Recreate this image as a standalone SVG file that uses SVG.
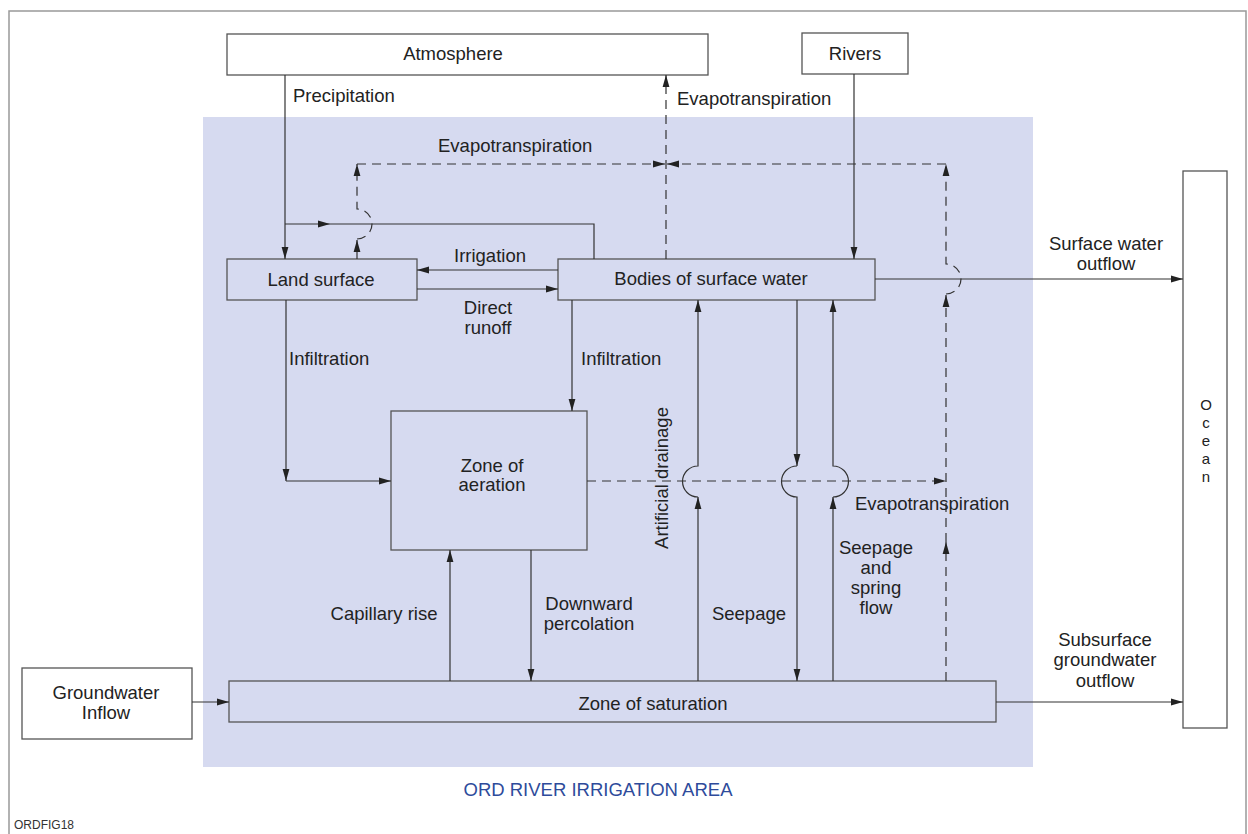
<svg xmlns="http://www.w3.org/2000/svg" width="1248" height="834" viewBox="0 0 1248 834">
<defs>
<style>
.bw{fill:#ffffff;stroke:#555;stroke-width:1.3}
.bb{fill:#d6daf0;stroke:#555;stroke-width:1.3}
.t{font-family:"Liberation Sans",Arial,Helvetica,sans-serif;font-size:18.5px;fill:#222}
.m{text-anchor:middle}
.o{font-size:15px}
.c{fill:none;stroke:#333;stroke-width:1.2}
.d{stroke-dasharray:9 6}
</style>
<marker id="ah" markerWidth="12" markerHeight="8" refX="12" refY="4" orient="auto" markerUnits="userSpaceOnUse">
<path d="M0,0.6 L12,4 L0,7.4 z" fill="#222" stroke="none"/>
</marker>
</defs>
<rect x="0" y="0" width="1248" height="834" fill="#ffffff"/>
<rect x="9" y="11" width="1237" height="840" fill="none" stroke="#999" stroke-width="1.5"/>
<rect id="irrigation-area" x="203" y="117" width="830" height="650" fill="#d6daf0"/>
<text class="t m" x="598" y="796" style="fill:#2e4b9b">ORD RIVER IRRIGATION AREA</text>
<text x="14" y="829" font-family="Liberation Sans, Arial, sans-serif" font-size="12" fill="#333">ORDFIG18</text>

<g id="atmosphere"><rect class="bw" x="227" y="34" width="481" height="41"/><text class="t m" x="453" y="60">Atmosphere</text></g>
<g id="rivers"><rect class="bw" x="802" y="33" width="106" height="41"/><text class="t m" x="855" y="60">Rivers</text></g>
<g id="ocean"><rect class="bw" x="1183" y="171" width="44" height="557"/>
<text class="t m o" x="1206" y="410">O</text><text class="t m o" x="1206" y="428">c</text><text class="t m o" x="1206" y="446">e</text><text class="t m o" x="1206" y="464">a</text><text class="t m o" x="1206" y="482">n</text></g>
<g id="land-surface"><rect class="bb" x="227" y="259" width="190" height="41"/><text class="t m" x="321" y="286">Land surface</text></g>
<g id="bodies-of-surface-water"><rect class="bb" x="558" y="259" width="317" height="41"/><text class="t m" x="711" y="285">Bodies of surface water</text></g>
<g id="zone-of-aeration"><rect class="bb" x="391" y="411" width="196" height="139"/><text class="t m" x="492" y="471.5">Zone of</text><text class="t m" x="492" y="490.5">aeration</text></g>
<g id="zone-of-saturation"><rect class="bb" x="229" y="681" width="767" height="41"/><text class="t m" x="653" y="709.5">Zone of saturation</text></g>
<g id="groundwater-inflow"><rect class="bw" x="22" y="668" width="170" height="71"/><text class="t m" x="106" y="698.5">Groundwater</text><text class="t m" x="106" y="718.5">Inflow</text></g>

<g id="connectors">
<path class="c" d="M285,75 V259" marker-end="url(#ah)"/>
<path class="c" d="M285,224 H330" marker-end="url(#ah)"/>
<path class="c" d="M330,224 H594 V259"/>
<path class="c" d="M558,270 H417" marker-end="url(#ah)"/>
<path class="c" d="M417,289 H558" marker-end="url(#ah)"/>
<path class="c" d="M854,74 V259" marker-end="url(#ah)"/>
<path class="c" d="M875,279 H1183" marker-end="url(#ah)"/>
<path class="c" d="M286,300 V481" marker-end="url(#ah)"/>
<path class="c" d="M286,481 H391" marker-end="url(#ah)"/>
<path class="c" d="M572,300 V411" marker-end="url(#ah)"/>
<path class="c" d="M450,681 V550" marker-end="url(#ah)"/>
<path class="c" d="M531,550 V681" marker-end="url(#ah)"/>
<path class="c" d="M698,681 V497" marker-end="url(#ah)"/>
<path class="c" d="M698,497 A15.5,15.5 0 0 1 698,466 V300" marker-end="url(#ah)"/>
<path class="c" d="M797,300 V466" marker-end="url(#ah)"/>
<path class="c" d="M797,466 A15.5,15.5 0 0 0 797,497 V681" marker-end="url(#ah)"/>
<path class="c" d="M833,681 V497" marker-end="url(#ah)"/>
<path class="c" d="M833,497 A15.5,15.5 0 0 0 833,466 V300" marker-end="url(#ah)"/>
<path class="c" d="M192,702 H229" marker-end="url(#ah)"/>
<path class="c" d="M996,702 H1183" marker-end="url(#ah)"/>
<path class="c d" d="M587,481 H946" marker-end="url(#ah)"/>
<path class="c d" d="M666,259 V75" marker-end="url(#ah)"/>
<path class="c d" d="M357,259 V240" marker-end="url(#ah)"/>
<path class="c d" d="M357,239 A15,15 0 0 0 357,209 V164" marker-end="url(#ah)"/>
<path class="c d" d="M357,164 H665" marker-end="url(#ah)"/>
<path class="c d" d="M946,681 V542" marker-end="url(#ah)"/>
<path class="c d" d="M946,542 V295" marker-end="url(#ah)"/>
<path class="c d" d="M946,294 A15,15 0 0 0 946,264 V164" marker-end="url(#ah)"/>
<path class="c d" d="M946,164 H667" marker-end="url(#ah)"/>
</g>

<g id="connector-labels">
<text class="t" x="293" y="101.5">Precipitation</text>
<text class="t" x="677" y="104.5">Evapotranspiration</text>
<text class="t" x="438" y="151.5">Evapotranspiration</text>
<text class="t m" x="490" y="261.5">Irrigation</text>
<text class="t m" x="488" y="313.5">Direct</text>
<text class="t m" x="488" y="333.5">runoff</text>
<text class="t" x="289" y="364.5">Infiltration</text>
<text class="t" x="581" y="364.5">Infiltration</text>
<text class="t m" transform="translate(668,478) rotate(-90)">Artificial drainage</text>
<text class="t" x="855" y="509.5">Evapotranspiration</text>
<text class="t m" x="876" y="553.5">Seepage</text>
<text class="t m" x="876" y="573.5">and</text>
<text class="t m" x="876" y="593.5">spring</text>
<text class="t m" x="876" y="613.5">flow</text>
<text class="t m" x="384" y="619.5">Capillary rise</text>
<text class="t m" x="589" y="609.5">Downward</text>
<text class="t m" x="589" y="629.5">percolation</text>
<text class="t m" x="749" y="619.5">Seepage</text>
<text class="t m" x="1106" y="249.5">Surface water</text>
<text class="t m" x="1106" y="269.5">outflow</text>
<text class="t m" x="1105" y="645.5">Subsurface</text>
<text class="t m" x="1105" y="666">groundwater</text>
<text class="t m" x="1105" y="686.5">outflow</text>
</g>
</svg>
